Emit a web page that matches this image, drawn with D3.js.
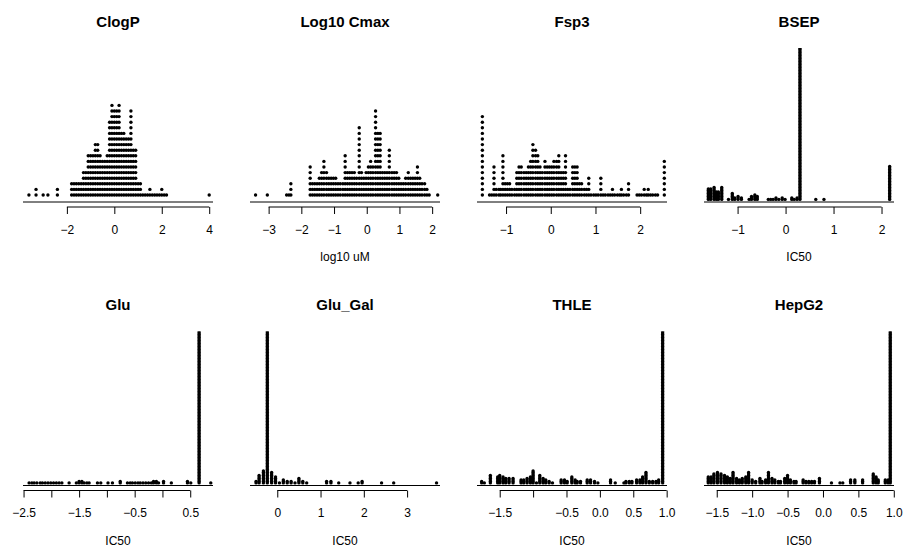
<!DOCTYPE html>
<html>
<head>
<meta charset="utf-8">
<script src="https://cdn.jsdelivr.net/npm/d3@7"></script>
<style>
  body { margin: 0; background: #fff; }
  svg { display: block; font-family: "Liberation Sans", Arial, sans-serif; }
</style>
</head>
<body>
<svg id="chart" width="903" height="549"></svg>
<script>
// stacks: [value, number of compounds at that value]
const clogpStacks = [[-3.6,1],[-3.3,2],[-3.0,1],[-2.8,1],[-2.4,2],[-1.8,3],[-1.7,3],[-1.6,3],[-1.5,3],[-1.4,3],
  [-1.3,5],[-1.2,5],[-1.1,8],[-1.0,8],[-0.9,8],[-0.8,10],[-0.7,10],[-0.6,8],[-0.5,7],[-0.4,7],[-0.3,8],
  [-0.2,14],[-0.1,17],[0.0,16],[0.1,16],[0.2,17],[0.3,12],[0.4,12],[0.5,11],[0.6,11],[0.7,16],[0.8,9],
  [0.9,9],[1.0,3],[1.1,3],[1.2,1],[1.3,1],[1.4,1],[1.5,2],[1.6,1],[1.7,1],[1.8,1],[1.9,1],[2.0,2],
  [2.1,1],[2.2,1],[4.0,1]];

const cmaxStacks = [[-3.40,1],[-3.04,1],[-2.45,1],[-2.38,1],[-2.32,3],[-1.73,6],[-1.66,3],[-1.59,3],
  [-1.52,3],[-1.45,4],[-1.38,5],[-1.31,7],[-1.23,5],[-1.16,4],[-1.09,4],[-1.02,4],[-0.95,4],[-0.88,3],
  [-0.81,3],[-0.73,3],[-0.66,8],[-0.59,5],[-0.52,5],[-0.45,5],[-0.38,5],[-0.31,4],[-0.23,13],[-0.16,5],
  [-0.09,4],[-0.02,5],[0.05,6],[0.12,7],[0.19,6],[0.27,16],[0.34,12],[0.41,12],[0.48,5],[0.55,5],
  [0.62,5],[0.69,9],[0.77,5],[0.84,5],[0.91,5],[0.98,4],[1.05,3],[1.12,3],[1.19,4],[1.27,5],[1.34,4],
  [1.41,4],[1.48,4],[1.55,6],[1.62,4],[1.69,3],[1.77,3],[1.84,2],[1.91,1],[2.17,1]];

const fsp3Stacks = [[-1.53,15],[-1.37,1],[-1.32,1],[-1.27,6],[-1.22,2],[-1.16,2],[-1.12,2],[-1.07,8],
  [-1.02,3],[-0.97,3],[-0.92,3],[-0.87,2],[-0.81,2],[-0.76,5],[-0.71,6],[-0.66,6],[-0.60,5],[-0.55,5],
  [-0.50,6],[-0.45,7],[-0.40,10],[-0.34,9],[-0.29,8],[-0.24,6],[-0.19,5],[-0.13,7],[-0.08,6],[-0.03,6],
  [0.02,6],[0.07,7],[0.13,7],[0.18,8],[0.23,5],[0.28,5],[0.33,8],[0.38,2],[0.43,2],[0.49,6],[0.54,6],
  [0.59,6],[0.64,3],[0.69,3],[0.75,2],[0.80,2],[0.85,4],[0.90,1],[0.96,1],[1.01,1],[1.06,1],[1.12,4],
  [1.17,1],[1.22,1],[1.28,1],[1.33,1],[1.38,2],[1.43,1],[1.49,1],[1.54,1],[1.58,2],[1.63,1],[1.69,1],
  [1.74,3],[1.93,1],[1.98,1],[2.03,1],[2.09,2],[2.14,1],[2.18,2],[2.23,1],[2.28,1],[2.34,1],[2.39,1],
  [2.54,7]];

const bsepStacks = [[-1.61,8],[-1.56,8],[-1.49,9],[-1.44,6],[-1.40,6],[-1.33,9],[-1.19,1],[-1.11,5],
  [-1.06,2],[-0.99,3],[-0.92,2],[-0.76,1],[-0.71,3],[-0.64,4],[-0.59,3],[-0.36,1],[-0.31,1],[-0.26,1],
  [-0.20,2],[-0.14,1],[-0.07,2],[-0.01,1],[0.13,2],[0.18,1],[0.24,2],[0.30,130],[0.63,1],[0.80,1],
  [2.17,23]];

const gluStacks = [[-2.40,1],[-2.35,1],[-2.31,1],[-2.26,1],[-2.20,1],[-2.16,1],[-2.11,1],[-2.06,1],
  [-2.01,1],[-1.96,1],[-1.91,1],[-1.86,1],[-1.81,1],[-1.68,1],[-1.55,1],[-1.50,2],[-1.45,2],[-1.41,1],
  [-1.36,1],[-1.32,1],[-1.17,1],[-1.11,1],[-0.98,1],[-0.90,1],[-0.76,2],[-0.63,1],[-0.58,1],[-0.54,1],
  [-0.49,1],[-0.44,1],[-0.40,1],[-0.35,1],[-0.30,1],[-0.25,1],[-0.20,1],[-0.16,2],[-0.11,2],[-0.07,1],
  [0.02,2],[0.16,1],[0.45,2],[0.51,1],[0.66,130],[0.87,1]];

const gluGalStacks = [[-0.49,2],[-0.42,6],[-0.32,9],[-0.23,130],[-0.13,8],[-0.04,5],[0.05,1],[0.14,3],
  [0.23,2],[0.32,2],[0.41,1],[0.50,4],[0.59,2],[0.68,1],[1.14,2],[1.24,2],[1.42,1],[1.68,1],[1.87,1],
  [1.96,2],[2.41,1],[2.69,1],[3.68,1]];

const thleStacks = [[-1.77,2],[-1.73,1],[-1.64,6],[-1.53,5],[-1.50,6],[-1.45,5],[-1.41,4],[-1.36,4],
  [-1.30,4],[-1.18,3],[-1.14,3],[-1.09,4],[-1.04,5],[-1.00,9],[-0.95,1],[-0.90,6],[-0.85,4],[-0.81,3],
  [-0.76,2],[-0.71,1],[-0.58,3],[-0.53,3],[-0.49,2],[-0.42,5],[-0.37,3],[-0.34,2],[-0.29,2],[-0.19,3],
  [-0.14,3],[-0.08,2],[-0.03,1],[0.16,3],[0.23,1],[0.36,1],[0.39,2],[0.44,2],[0.48,2],[0.55,3],[0.60,3],
  [0.64,5],[0.69,8],[0.74,2],[0.79,2],[0.84,2],[0.88,3],[0.94,130]];

const hepg2Stacks = [[-1.62,5],[-1.58,5],[-1.54,7],[-1.49,8],[-1.44,7],[-1.39,6],[-1.35,5],[-1.31,4],
  [-1.27,8],[-1.22,4],[-1.18,3],[-1.14,4],[-1.09,5],[-1.05,8],[-1.00,3],[-0.95,2],[-0.89,4],[-0.86,2],
  [-0.81,3],[-0.77,8],[-0.72,4],[-0.68,3],[-0.63,2],[-0.60,2],[-0.54,4],[-0.50,6],[-0.46,3],[-0.41,2],
  [-0.38,2],[-0.28,3],[-0.24,2],[-0.20,2],[-0.16,2],[-0.12,2],[-0.05,4],[0.12,1],[0.24,1],[0.28,1],
  [0.39,3],[0.45,3],[0.56,3],[0.71,7],[0.75,5],[0.78,3],[0.88,3],[0.92,3],[0.95,130]];

const titles = ['ClogP', 'Log10 Cmax', 'Fsp3', 'BSEP', 'Glu', 'Glu_Gal', 'THLE', 'HepG2'];
const xLabels = ['', 'log10 uM', '', 'IC50', 'IC50', 'IC50', 'IC50', 'IC50'];
const tickValues = [
  [-2, 0, 2, 4],
  [-3, -2, -1, 0, 1, 2],
  [-1, 0, 1, 2],
  [-1, 0, 1, 2],
  [-2.5, -2.0, -1.5, -1.0, -0.5, 0.0, 0.5],
  [0, 1, 2, 3],
  [-1.5, -1.0, -0.5, 0.0, 0.5, 1.0],
  [-1.5, -1.0, -0.5, 0.0, 0.5, 1.0]
];
const xLimits = [[-3.85, 4.16], [-3.57, 2.24], [-1.65, 2.60], [-1.70, 2.26],
                 [-2.51, 0.91], [-0.63, 3.76], [-1.84, 1.005], [-1.68, 1.003]];
const allStacks = [clogpStacks, cmaxStacks, fsp3Stacks, bsepStacks,
                   gluStacks, gluGalStacks, thleStacks, hepg2Stacks];

// layout
const plotW = 190, colStep = 227, plotLeft0 = 23, rowStep = 283.5;
const plotTop = 48, ruleY = 202;
const loose = { first: 7, step: 5.6 };   // ClogP, Cmax, Fsp3
const tight = { first: 2.6, step: 1.5 }; // assay panels
const dotR = 1.7;

const svg = d3.select('#chart');

allStacks.forEach((stacks, i) => {
  const col = i % 4, row = Math.floor(i / 4);
  const left = plotLeft0 + col * colStep;
  const dy = row * rowStep;
  const top = plotTop + dy, rule = ruleY + dy, axisY = rule + 5;
  const style = i < 3 ? loose : tight;

  const x = d3.scaleLinear().domain(xLimits[i]).range([left, left + plotW]);
  const g = svg.append('g');

  g.append('clipPath').attr('id', 'clip' + i)
    .append('rect')
    .attr('x', left - 5).attr('y', top)
    .attr('width', plotW + 10).attr('height', rule - top);

  const dots = stacks.flatMap(([v, n]) => d3.range(n).map(k => ({ v, k })));
  g.append('g')
    .attr('clip-path', `url(#clip${i})`)
    .selectAll('circle')
    .data(dots)
    .join('circle')
    .attr('cx', d => x(d.v))
    .attr('cy', d => rule - style.first - d.k * style.step)
    .attr('r', dotR)
    .attr('fill', '#000');

  g.append('line')
    .attr('x1', left).attr('x2', left + plotW)
    .attr('y1', rule).attr('y2', rule)
    .attr('stroke', '#000').attr('stroke-width', 1);

  const ticks = tickValues[i];
  const fmt = ticks.some(t => !Number.isInteger(t)) ? d3.format('.1f') : d3.format('d');
  const axis = d3.axisBottom(x)
    .tickValues(ticks)
    .tickSize(7)
    .tickSizeOuter(0)
    .tickPadding(11)
    .tickFormat(fmt);

  const ax = g.append('g')
    .attr('transform', `translate(0,${axisY})`)
    .call(axis);
  ax.select('.domain')
    .attr('d', `M${x(ticks[0])},0H${x(ticks[ticks.length - 1])}`)
    .attr('stroke', '#000');
  ax.selectAll('.tick line').attr('stroke', '#000');
  ax.selectAll('.tick text')
    .attr('fill', '#000')
    .style('font-size', '12px')
    .style('font-family', '"Liberation Sans", Arial, sans-serif');

  // drop labels that would crowd the previous one, like R does
  let lastRight = -Infinity;
  ax.selectAll('.tick').each(function (t) {
    const txt = d3.select(this).select('text');
    const w = txt.node().getComputedTextLength();
    const cx = x(t);
    if (cx - w / 2 - lastRight < 10) {
      txt.remove();
    } else {
      lastRight = cx + w / 2;
    }
  });

  g.append('text')
    .attr('x', left + plotW / 2)
    .attr('y', 26.7 + dy)
    .attr('text-anchor', 'middle')
    .style('font-size', '15px')
    .style('font-weight', 'bold')
    .text(titles[i]);

  if (xLabels[i]) {
    g.append('text')
      .attr('x', left + plotW / 2)
      .attr('y', 261 + dy)
      .attr('text-anchor', 'middle')
      .style('font-size', '12px')
      .text(xLabels[i]);
  }
});
</script>
</body>
</html>
